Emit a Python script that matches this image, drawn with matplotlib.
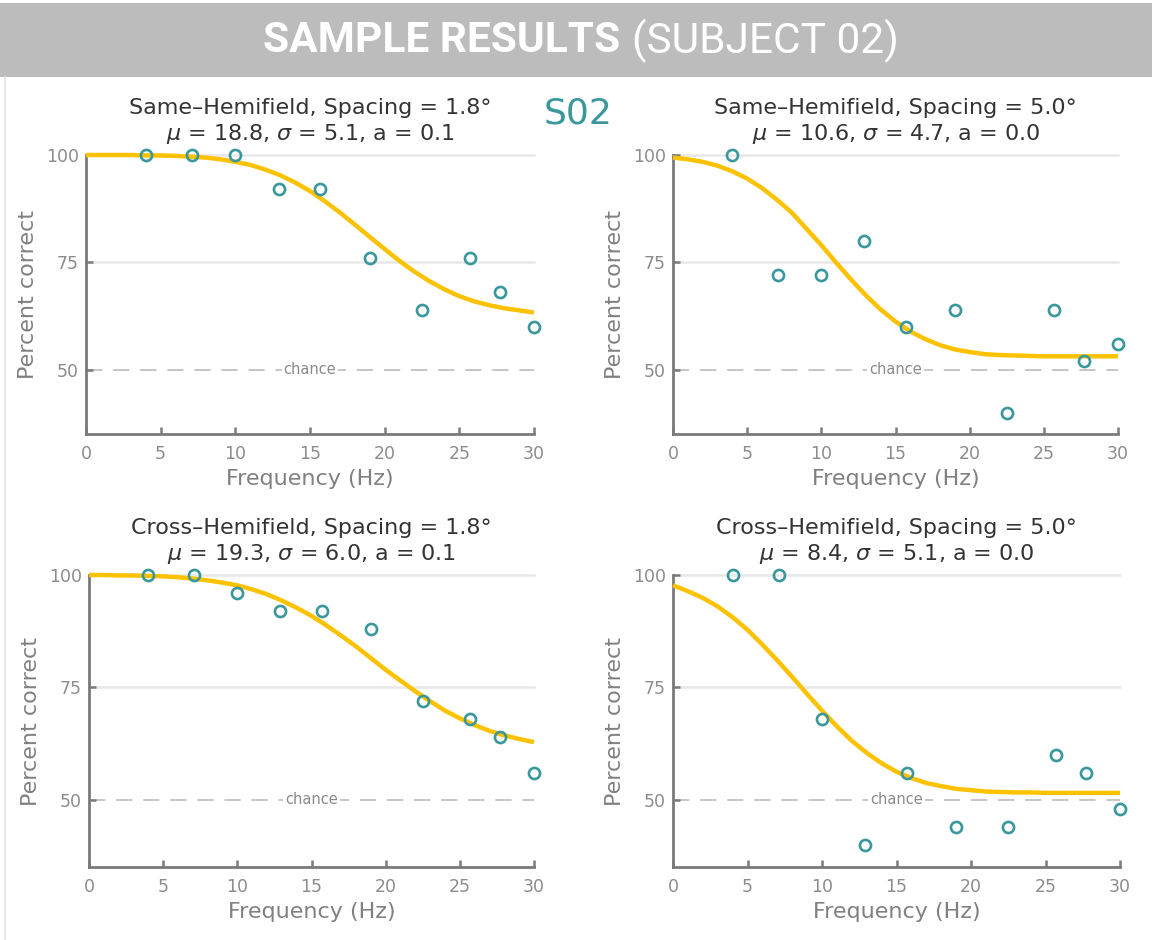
import matplotlib
matplotlib.use('Agg')
import matplotlib.pyplot as plt
from matplotlib.patches import Rectangle
from matplotlib.lines import Line2D

W, H = 1155, 940

# stimulus frequencies (Hz)
freq = [4, 7.1, 10, 12.9, 15.7, 19, 22.5, 25.7, 27.7, 30]

# percent correct per condition
same_18 = [100, 100, 100, 92, 92, 76, 64, 76, 68, 60]
same_50 = [100, 72, 72, 80, 60, 64, 40, 64, 52, 56]
cross_18 = [100, 100, 96, 92, 92, 88, 72, 68, 64, 56]
cross_50 = [100, 100, 68, 40, 56, 44, 44, 60, 56, 48]

# fitted curves, every 1 Hz
fit_freq = list(range(31))
fit_same_18 = [100, 100, 100, 100, 99.9, 99.9, 99.8, 99.6, 99.4, 99.0,
               98.4, 97.7, 96.6, 95.3, 93.6, 91.6, 89.2, 86.6, 83.8, 80.9,
               78.1, 75.3, 72.8, 70.6, 68.7, 67.1, 65.9, 65.0, 64.3, 63.8, 63.3]
fit_same_50 = [99.4, 99.0, 98.4, 97.5, 96.2, 94.5, 92.3, 89.6, 86.6, 82.8,
               79.0, 74.9, 71.0, 67.3, 64.0, 61.2, 58.9, 57.1, 55.7, 54.7,
               54.1, 53.6, 53.4, 53.3, 53.2, 53.1, 53.1, 53.1, 53.1, 53.1, 53.1]
fit_cross_18 = [100, 100, 99.9, 99.9, 99.8, 99.7, 99.5, 99.2, 98.8, 98.3,
                97.7, 96.8, 95.7, 94.3, 92.7, 90.9, 88.8, 86.5, 84.1, 81.5,
                78.9, 76.5, 74.1, 71.9, 69.8, 68.1, 66.6, 65.3, 64.3, 63.5, 62.8]
fit_cross_50 = [97.7, 96.4, 94.9, 93.0, 90.6, 87.8, 84.5, 81.0, 77.3, 73.5,
                69.8, 66.3, 63.1, 60.4, 58.1, 56.2, 54.8, 53.7, 53.0, 52.4,
                52.1, 51.8, 51.7, 51.6, 51.6, 51.5, 51.5, 51.5, 51.5, 51.5, 51.5]

titles = ['Same\u2013Hemifield, Spacing = 1.8\u00b0',
          'Same\u2013Hemifield, Spacing = 5.0\u00b0',
          'Cross\u2013Hemifield, Spacing = 1.8\u00b0',
          'Cross\u2013Hemifield, Spacing = 5.0\u00b0']
mus = [18.8, 10.6, 19.3, 8.4]
sigmas = [5.1, 4.7, 6.0, 5.1]
lapses = [0.1, 0.0, 0.1, 0.0]

yticks = [50, 75, 100]
xticks = [0, 5, 10, 15, 20, 25, 30]

TEAL = '#3a979c'
GOLD = '#fcc200'
GRAY = '#7a7a7a'

fig = plt.figure(figsize=(W / 100, H / 100), dpi=100)
fig.patch.set_facecolor('white')

# header banner
fig.patches.append(Rectangle((0, 1 - 77 / H), 1152 / W, 74 / H, transform=fig.transFigure,
                             facecolor='#bcbcbc', edgecolor='none'))
fig.lines.append(Line2D([5 / W, 5 / W], [0, 1 - 77 / H], transform=fig.transFigure,
                        color='#e2e2e2', lw=1.2))

r = fig.canvas.get_renderer()
yb = 1 - 41 / H
t1 = fig.text(0, yb, 'SAMPLE RESULTS', family='Roboto', weight='bold', fontsize=30.5,
              color='white', va='center')
t2 = fig.text(0, yb, '(SUBJECT 02)', family='Roboto', weight='normal', fontsize=30.5,
              color='white', va='center')
w1 = t1.get_window_extent(r).width
w2 = t2.get_window_extent(r).width
gap = 12
x0 = 581 - (w1 + gap + w2) / 2
t1.set_x(x0 / W)
t2.set_x((x0 + w1 + gap) / W)

fig.text(578 / W, 1 - 113 / H, 'S02', fontsize=26, color=TEAL, ha='center', va='center')

# axes boxes in pixels: left, top, right, bottom
boxes = [(86, 155, 534, 434), (673, 155, 1118, 434),
         (89, 575, 534, 867), (673, 575, 1120, 867)]
data = [same_18, same_50, cross_18, cross_50]
fits = [fit_same_18, fit_same_50, fit_cross_18, fit_cross_50]

for i in range(4):
    l, t, rr, b = boxes[i]
    ax = fig.add_axes([l / W, 1 - b / H, (rr - l) / W, (b - t) / H])
    ax.set_xlim(0, 30)
    ax.set_ylim(35, 100)

    for yv in [75, 100]:
        ax.plot([0, 30], [yv, yv], color='#e8e8e8', lw=1.8, zorder=1, clip_on=False)
    ax.plot([0, 30], [50, 50], color='#c2c2c2', lw=1.3, dashes=(9, 6), zorder=1)
    ax.text(15, 50, 'chance', fontsize=10.5, color='#8a8a8a', ha='center', va='center',
            zorder=2, bbox=dict(facecolor='white', edgecolor='none', pad=1.5))

    ax.plot(fit_freq, fits[i], color=GOLD, lw=3.2, zorder=3, clip_on=False,
            solid_joinstyle='round', solid_capstyle='butt')
    ax.plot(freq, data[i], linestyle='none', marker='o', ms=8, mfc='none',
            mec=TEAL, mew=1.9, zorder=4, clip_on=False)

    for s in ['top', 'right']:
        ax.spines[s].set_visible(False)
    for s in ['left', 'bottom']:
        ax.spines[s].set_color(GRAY)
        ax.spines[s].set_linewidth(2)
    ax.set_xticks(xticks)
    ax.set_yticks(yticks)
    ax.tick_params(direction='in', length=5, width=1.8, color=GRAY,
                   labelcolor='#8c8c8c', labelsize=12.5)
    ax.tick_params(axis='x', pad=8)
    ax.tick_params(axis='y', pad=5)
    ax.set_xlabel('Frequency (Hz)', fontsize=16, color='#808080', labelpad=4)
    ax.set_ylabel('Percent correct', fontsize=16, color='#808080', labelpad=6)
    ax.set_facecolor('none')

    ax.set_title(titles[i] + '\n' +
                 r'$\mu$ = %.1f, $\sigma$ = %.1f, a = %.1f' % (mus[i], sigmas[i], lapses[i]),
                 fontsize=16, color='#333333', pad=11, linespacing=1.2)

fig.savefig('out.png', dpi=100)
